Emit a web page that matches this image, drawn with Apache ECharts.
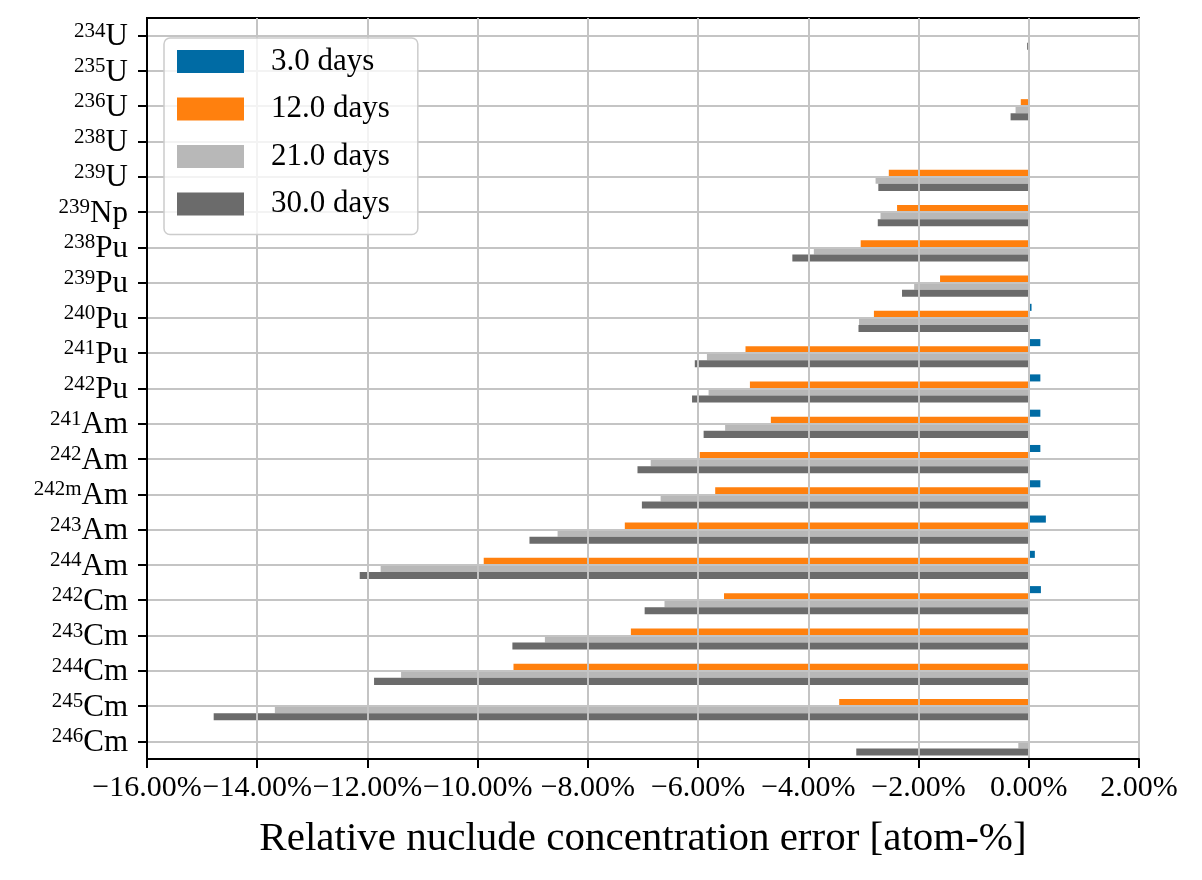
<!DOCTYPE html>
<html>
<head>
<meta charset="utf-8">
<script src="https://cdn.jsdelivr.net/npm/echarts@6/dist/echarts.min.js"></script>
<style>
html,body{margin:0;padding:0;background:#fff;}
#chart{width:1202px;height:880px;}
</style>
</head>
<body>
<div id="chart"></div>
<script>
// Nuclides (top to bottom)
var isotopeMass = ['234','235','236','238','239','239','238','239','240','241','242','241','242','242m','243','244','242','243','244','245','246'];
var isotopeElement = ['U','U','U','U','U','Np','Pu','Pu','Pu','Pu','Pu','Am','Am','Am','Am','Am','Cm','Cm','Cm','Cm','Cm'];
var categories = isotopeMass.map(function (m, i) { return m + isotopeElement[i]; });

var seriesNames = ['3.0 days', '12.0 days', '21.0 days', '30.0 days'];

// Relative nuclide concentration error [%]
var days3  = [0, 0, 0, 0, 0, 0, 0.01, 0, 0.05, 0.21, 0.21, 0.21, 0.21, 0.21, 0.31, 0.11, 0.22, 0, 0.01, 0, 0];
var days12 = [-0.01, 0, -0.145, 0, -2.54, -2.39, -3.05, -1.61, -2.81, -5.14, -5.06, -4.68, -5.97, -5.69, -7.33, -9.89, -5.53, -7.22, -9.35, -3.44, 0];
var days21 = [0, -0.005, -0.24, 0, -2.78, -2.69, -3.90, -2.08, -3.08, -5.84, -5.81, -5.51, -6.86, -6.68, -8.55, -11.76, -6.61, -8.78, -11.39, -13.68, -0.19];
var days30 = [-0.03, 0, -0.33, 0, -2.73, -2.74, -4.29, -2.30, -3.09, -6.06, -6.11, -5.90, -7.10, -7.02, -9.06, -12.14, -6.97, -9.37, -11.88, -14.79, -3.13];

var xTicksMin = -16, xTicksMax = 2, xTickStep = 2;
var colors = ['#006BA4', '#FF800E', '#B8B8B8', '#6B6B6B'];

var FONT = '"Liberation Serif", "DejaVu Serif", serif';
var chart = echarts.init(document.getElementById('chart'), null, {renderer: 'canvas'});

var seriesData = [days3, days12, days21, days30];
var series = seriesData.map(function (d, i) {
  return {
    name: seriesNames[i],
    type: 'bar',
    data: d,
    barGap: '0%',
    barCategoryGap: '20%',
    itemStyle: {color: colors[i]},
    z: 2
  };
});

chart.setOption({
  animation: false,
  backgroundColor: '#fff',
  textStyle: {fontFamily: FONT},
  grid: {
    left: 147, right: 63, top: 18, bottom: 121,
    show: true, borderColor: '#000', borderWidth: 2, backgroundColor: 'transparent'
  },
  legend: {
    orient: 'vertical',
    left: 164, top: 38,
    data: seriesNames,
    icon: 'rect',
    itemWidth: 67, itemHeight: 23, itemGap: 16.5,
    padding: [8, 28, 15, 13],
    backgroundColor: 'rgba(255,255,255,0.8)',
    borderColor: '#cccccc', borderWidth: 1.5, borderRadius: 6,
    textStyle: {fontFamily: FONT, fontSize: 31, color: '#000', padding: [0, 0, 0, 22]}
  },
  xAxis: {
    type: 'value',
    min: xTicksMin, max: xTicksMax, interval: xTickStep,
    z: 3,
    name: 'Relative nuclude concentration error [atom-%]',
    nameLocation: 'middle', nameGap: 60,
    nameTextStyle: {fontFamily: FONT, fontSize: 41, color: '#000'},
    axisLine: {show: true, onZero: false, lineStyle: {color: '#000', width: 2}},
    axisTick: {show: true, inside: false, length: 9, lineStyle: {color: '#000', width: 2}},
    axisLabel: {
      fontFamily: FONT, fontSize: 30, color: '#000', margin: 14,
      formatter: function (v) { return (v < 0 ? '\u2212' : '') + Math.abs(v).toFixed(2) + '%'; }
    },
    splitLine: {show: true, lineStyle: {color: '#c4c4c4', width: 2}}
  },
  yAxis: {
    type: 'category',
    data: categories,
    inverse: true,
    z: 3,
    axisLine: {show: true, onZero: false, lineStyle: {color: '#000', width: 2}},
    axisTick: {show: true, alignWithLabel: true, inside: false, length: 9, lineStyle: {color: '#000', width: 2}},
    splitLine: {show: true, alignWithLabel: true, lineStyle: {color: '#c4c4c4', width: 2}},
    axisLabel: {
      margin: 19,
      interval: 0,
      formatter: function (v, i) { return '{sup|' + isotopeMass[i] + '}{el|' + isotopeElement[i] + '}'; },
      rich: {
        sup: {fontFamily: FONT, fontSize: 21, color: '#000', lineHeight: 21, verticalAlign: 'top', padding: [2, 0, 0, 0]},
        el: {fontFamily: FONT, fontSize: 31, color: '#000', lineHeight: 34, verticalAlign: 'bottom', padding: [8, 0, 0, 0]}
      }
    }
  },
  series: series
});
</script>
</body>
</html>
